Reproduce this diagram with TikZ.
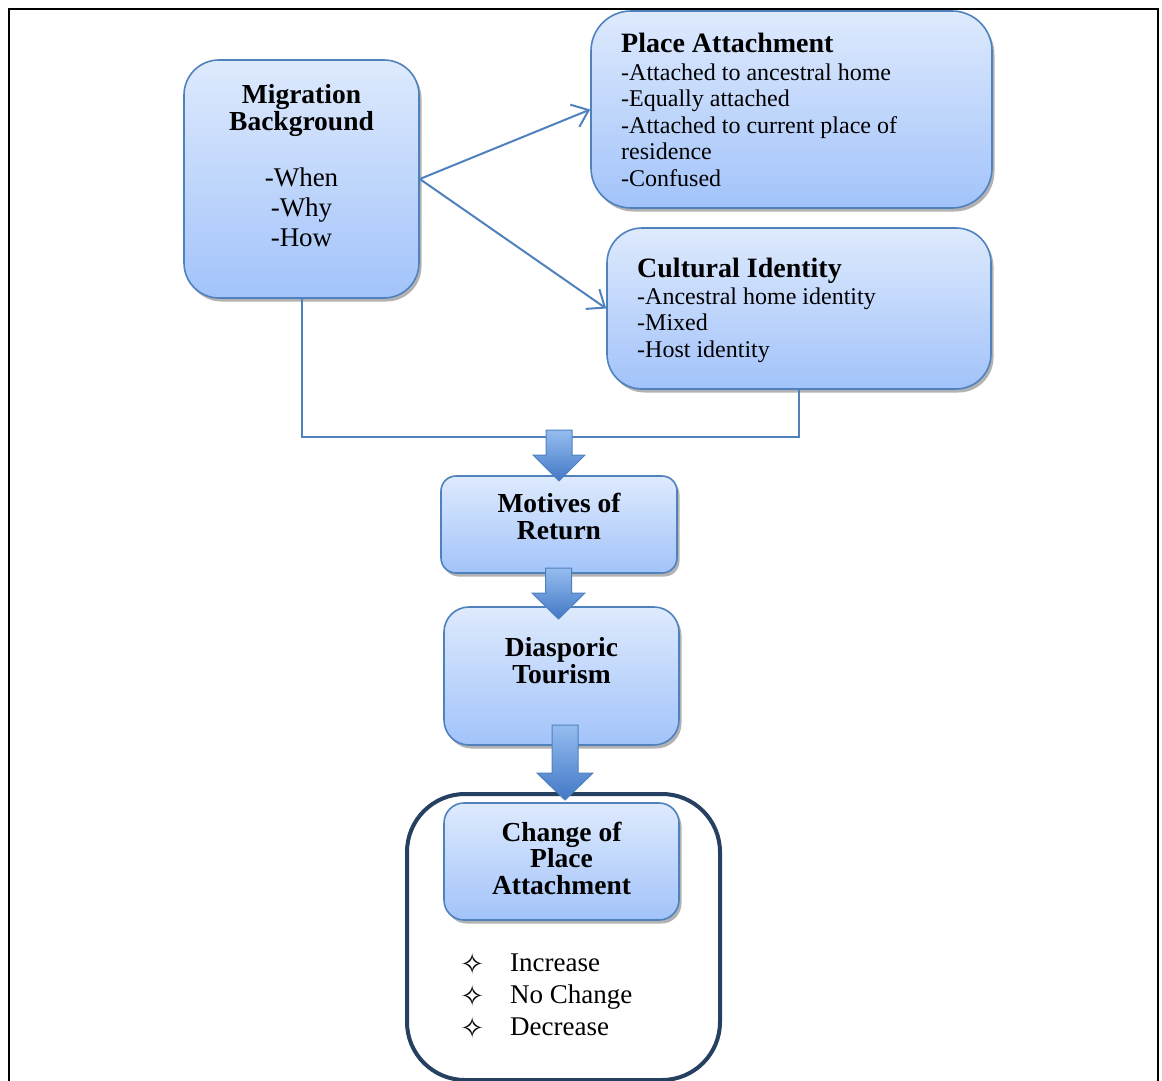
\documentclass[tikz,border=0pt]{standalone}
\usepackage{fontspec}
\setmainfont{Liberation Serif}
\newfontfamily\symfont{DejaVu Sans}
\usetikzlibrary{arrows.meta,shadows}

\definecolor{boxline}{RGB}{79,129,189}
\definecolor{boxtop}{RGB}{222,234,253}
\definecolor{boxbot}{RGB}{162,195,250}
\definecolor{arrtop}{RGB}{150,189,240}
\definecolor{arrbot}{RGB}{66,120,198}
\definecolor{navy}{RGB}{37,64,97}

\tikzset{
  card/.style={rectangle, draw=boxline, line width=1.6pt,
    top color=boxtop, bottom color=boxbot, inner sep=0pt,
    drop shadow={shadow xshift=2.5pt, shadow yshift=-3.5pt, opacity=0.3, fill=black}},
  titletext/.style={font=\fontsize{27.5}{27}\selectfont\bfseries, align=center, inner sep=0pt},
  headtext/.style={font=\fontsize{28}{28}\selectfont\bfseries, inner sep=0pt},
  bodytext/.style={font=\fontsize{24}{26.6}\selectfont, align=left, inner sep=0pt},
  listtext/.style={font=\fontsize{27}{30}\selectfont, align=center, inner sep=0pt},
  link/.style={draw=boxline, line width=2pt},
  linkarrow/.style={link, -{Straight Barb[length=15pt, width=24pt, line width=2pt]}},
  blockarrow/.style={draw=boxline, line width=1pt, top color=arrtop, bottom color=arrbot},
}

\begin{document}
\begin{tikzpicture}[x=1pt, y=-1pt]
\useasboundingbox (0,0) rectangle (1162,1081);
\clip (0,0) rectangle (1162,1081);

% outer page frame
\draw[line width=2pt] (9,1100) -- (9,9) -- (1158,9) -- (1158,1100);

% upper boxes
\node[card, rounded corners=35pt, minimum width=235pt, minimum height=238pt] (mig) at (301.5,179) {};
\node[titletext] (migt) at (301.5,110.5) {Migration\\Background};
\node[listtext] (migl) at (301.5,207) {-When\\-Why\\-How};

\node[card, rounded corners=40pt, minimum width=401pt, minimum height=197pt] (pa) at (791.5,109.5) {};
\node[headtext, anchor=base west] (pat) at (621,53) {Place Attachment};
% multi-line nodes sit on the baseline of their last line
\node[bodytext, anchor=base west] (pab) at (621,186.4)
  {-Attached to ancestral home\\-Equally attached\\-Attached to current place of\\residence\\-Confused};

\node[card, rounded corners=35pt, minimum width=384pt, minimum height=161pt] (ci) at (799,308.5) {};
\node[headtext, anchor=base west] (cit) at (637,277) {Cultural Identity};
\node[bodytext, anchor=base west] (cib) at (637,357.2)
  {-Ancestral home identity\\-Mixed\\-Host identity};

% links from the migration box
\draw[linkarrow] (mig.east) -- (pa.west);
\draw[linkarrow] (mig.east) -- (ci.west);
\coordinate (jl) at (301.5,437);
\coordinate (jr) at (799,437);
\draw[link] (mig.south) -- (jl) -- (jr) -- (ci.south);

% lower chain
\node[card, rounded corners=15pt, minimum width=236pt, minimum height=97pt] (mot) at (559,524.5) {};
\node[titletext] (mott) at (559,516.5) {Motives of\\Return};

\node[card, rounded corners=25pt, minimum width=235pt, minimum height=138pt] (dia) at (561.5,676) {};
\node[titletext] (diat) at (561.5,661) {Diasporic\\Tourism};

\node[draw=navy, line width=4pt, rounded corners=58pt, fill=white,
      minimum width=313pt, minimum height=286pt] (outcome) at (563.5,937) {};

\node[card, rounded corners=20pt, minimum width=235pt, minimum height=117pt] (chg) at (561.5,861.5) {};
\node[titletext, font=\fontsize{27.5}{26.5}\selectfont\bfseries] (chgt) at (561.5,858) {Change of\\Place\\Attachment};

\node[font=\symfont\fontsize{29}{32}\selectfont, align=center, inner sep=0pt] (stars) at (473,996) {✧\\✧\\✧};
\node[font=\fontsize{27}{32}\selectfont, align=left, inner sep=0pt, anchor=west] (items) at (510,995)
  {Increase\\No Change\\Decrease};

% block arrows between the lower boxes
\path[blockarrow] (546,430) -- (572,430) -- (572,455) -- (585,455) -- (559,481)
  -- (533,455) -- (546,455) -- cycle;
\path[blockarrow] (545.5,568) -- (571.5,568) -- (571.5,593) -- (585,593) -- (558.5,619)
  -- (532,593) -- (545.5,593) -- cycle;
\path[blockarrow] (552,725) -- (578,725) -- (578,773) -- (593,773) -- (565,800)
  -- (537,773) -- (552,773) -- cycle;
\end{tikzpicture}
\end{document}
